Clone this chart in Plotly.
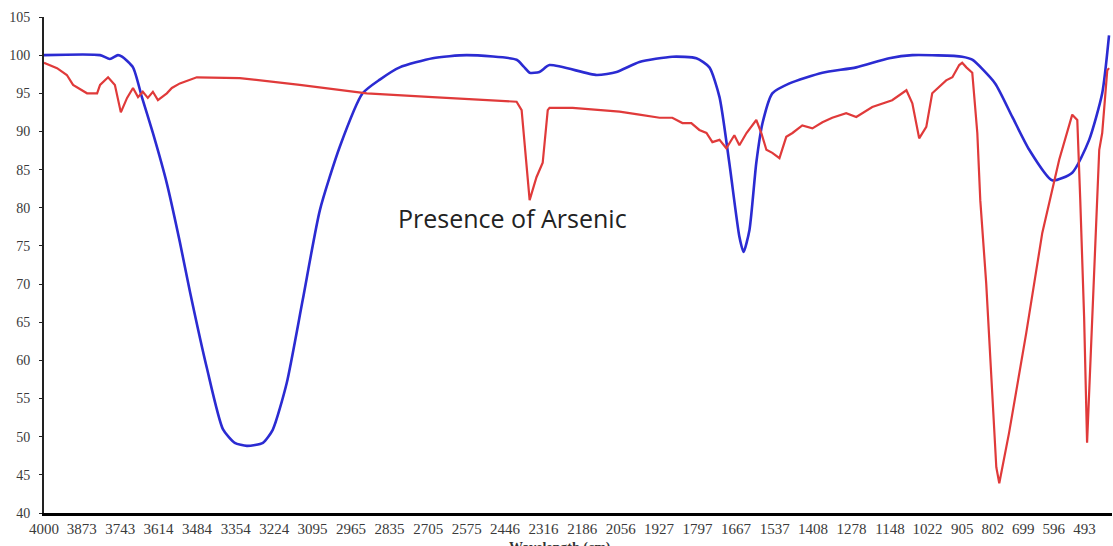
import plotly.graph_objects as go

# Tick labels on the wavenumber axis
tick_values = [4000, 3873, 3743, 3614, 3484, 3354, 3224, 3095, 2965, 2835, 2705,
               2575, 2446, 2316, 2186, 2056, 1927, 1797, 1667, 1537, 1408, 1278,
               1148, 1022, 905, 802, 699, 596, 493]

# Blue spectrum (wavenumber, transmittance)
blue_wn = [4000, 3811, 3778, 3751, 3737, 3700, 3670, 3633, 3586, 3542, 3508, 3451,
           3397, 3357, 3316, 3262, 3229, 3182, 3128, 3070, 3003, 2926, 2868,
           2801, 2690, 2575, 2407, 2383, 2363, 2330, 2296, 2137, 2070, 1993, 1882,
           1801, 1757, 1723, 1690, 1656, 1642, 1622, 1599, 1578, 1545, 1487, 1376,
           1262, 1151, 1073, 905, 871, 794, 736, 679, 602, 534, 477, 433, 410]
blue_t = [100, 100, 99.5, 100, 99.8, 98.4, 94.5, 89.8, 83.2, 75.5, 69, 59,
          51, 49.2, 48.8, 49.2, 50.9, 57, 67.9, 79.7, 88, 95, 96.8,
          98.4, 99.6, 100, 99.4, 98.5, 97.7, 97.8, 98.7, 97.4, 97.8, 99.1, 99.8,
          99.6, 98.4, 94.5, 85.9, 76.2, 74.2, 77.1, 85.9, 91.1, 95, 96.3, 97.7,
          98.4, 99.6, 100, 99.8, 99.4, 96.3, 91.9, 87.6, 83.6, 84.6, 88.9, 95, 102.6]

# Red spectrum (wavenumber, transmittance)
red_wn = [4000, 3956, 3923, 3902, 3855, 3821, 3811, 3784, 3761, 3741, 3720, 3700,
          3683, 3667, 3650, 3633, 3616, 3586, 3569, 3542, 3485, 3340, 3138, 2912,
          2690, 2407, 2390, 2373, 2363, 2340, 2319, 2302, 2296, 2218, 2060,
          1993, 1925, 1882, 1848, 1818, 1791, 1767, 1747, 1723, 1700, 1673, 1656,
          1632, 1599, 1582, 1565, 1545, 1521, 1498, 1477, 1444, 1410, 1376, 1343,
          1296, 1262, 1208, 1141, 1093, 1073, 1050, 1026, 1006, 959, 938, 915,
          905, 891, 871, 854, 844, 824, 790, 780, 747, 689, 635, 602, 578,
          534, 517, 507, 494, 484, 467, 443, 433, 416, 410]
red_t = [99, 98.3, 97.4, 96.1, 95, 95, 96.1, 97.1, 96.1, 92.5, 94.4, 95.7,
         94.5, 95.2, 94.4, 95.2, 94.1, 95, 95.7, 96.3, 97.1, 97, 96.1, 95,
         94.5, 93.9, 92.8, 84.9, 81, 84, 85.9, 92.8, 93.1, 93.1, 92.6,
         92.2, 91.8, 91.8, 91.1, 91.1, 90.2, 89.8, 88.6, 88.9, 87.8, 89.5, 88.2,
         89.8, 91.5, 89.8, 87.6, 87.2, 86.5, 89.3, 89.8, 90.8, 90.4, 91.2, 91.8,
         92.4, 91.9, 93.2, 94.1, 95.4, 93.7, 89.1, 90.6, 95, 96.7, 97.1, 98.7,
         99, 98.4, 97.7, 89.8, 81, 70.1, 46, 43.9, 50.5, 63.6, 76.7, 82.5, 86.3,
         92.2, 91.5, 81, 65.7, 49.2, 65.7, 87.6, 89.8, 98, 98.3]

fig = go.Figure()
fig.add_trace(go.Scatter(x=blue_wn, y=blue_t, mode="lines",
                         line=dict(color="#2b2bd2", width=2.6, shape="spline", smoothing=0.6),
                         showlegend=False))
fig.add_trace(go.Scatter(x=red_wn, y=red_t, mode="lines",
                         line=dict(color="#e03a3a", width=2.2),
                         showlegend=False))

fig.add_annotation(x=2420, y=78.7, xref="x", yref="y", text="Presence of Arsenic",
                   showarrow=False, font=dict(family="Open Sans", size=25, color="#222222"))
fig.add_annotation(x=0.483, y=-0.05, xref="paper", yref="paper", yanchor="top",
                   text="<b>Wavelength (cm)</b>", showarrow=False,
                   font=dict(family="Liberation Serif", size=14, color="#333333"))

fig.update_layout(
    width=1113, height=546,
    margin=dict(l=44, r=1, t=17, b=33),
    paper_bgcolor="white", plot_bgcolor="white",
    xaxis=dict(range=[4000, 400], tickvals=tick_values,
               ticktext=[str(v) for v in tick_values],
               showgrid=False, zeroline=False, showline=True,
               linecolor="black", linewidth=3, ticks="",
               tickfont=dict(family="Liberation Serif", size=15, color="#3a3a3a"),
               automargin=False),
    yaxis=dict(range=[40, 105], dtick=5, tick0=40,
               showgrid=False, zeroline=False, showline=True,
               linecolor="#222222", linewidth=2, ticks="outside", ticklen=3,
               tickcolor="#222222", ticklabelstandoff=6,
               tickfont=dict(family="Liberation Serif", size=14, color="#3a3a3a"),
               automargin=False),
)

fig.write_html("out.html")
